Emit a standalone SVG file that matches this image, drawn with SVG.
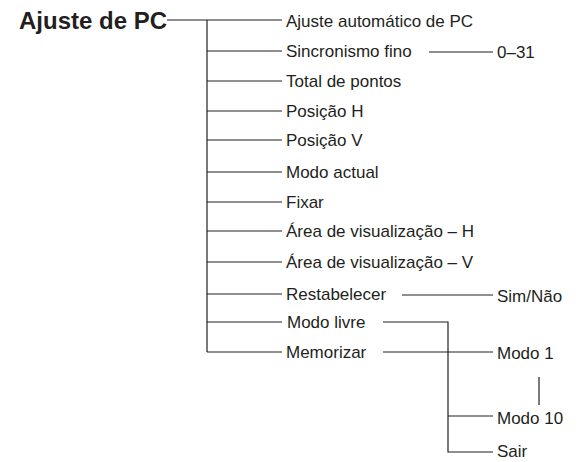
<svg xmlns="http://www.w3.org/2000/svg" width="579" height="462" viewBox="0 0 579 462">
<style>
text{font-family:"Liberation Sans",Arial,sans-serif;font-size:17px;fill:#231f20}
.title{font-size:24px;font-weight:bold}
.c line,.c path{stroke:#231f20;stroke-width:1.2;fill:none}
</style>
<rect width="579" height="462" fill="#fff"/>
<g class="c" id="connectors">
<line x1="167" y1="20" x2="282" y2="20"/>
<line x1="207" y1="20" x2="207" y2="352"/>
<line x1="207" y1="51" x2="282" y2="51"/>
<line x1="207" y1="81" x2="282" y2="81"/>
<line x1="207" y1="111" x2="282" y2="111"/>
<line x1="207" y1="140" x2="282" y2="140"/>
<line x1="207" y1="172" x2="282" y2="172"/>
<line x1="207" y1="202" x2="282" y2="202"/>
<line x1="207" y1="231" x2="282" y2="231"/>
<line x1="207" y1="262" x2="282" y2="262"/>
<line x1="207" y1="294" x2="282" y2="294"/>
<line x1="207" y1="322" x2="282" y2="322"/>
<line x1="207" y1="352" x2="282" y2="352"/>
<line x1="429" y1="52" x2="493" y2="52"/>
<line x1="402" y1="295" x2="493" y2="295"/>
<path d="M383 322H448V452H493"/>
<line x1="383" y1="352" x2="493" y2="352"/>
<line x1="448" y1="416" x2="493" y2="416"/>
<line x1="539" y1="377" x2="539" y2="405"/>
</g>
<g id="root"><text class="title" x="19" y="29">Ajuste de PC</text></g>
<g id="n1"><text x="286" y="27">Ajuste automático de PC</text></g>
<g id="n2"><text x="286" y="57">Sincronismo fino</text></g>
<g id="n2a"><text x="497" y="58">0–31</text></g>
<g id="n3"><text x="286" y="87">Total de pontos</text></g>
<g id="n4"><text x="286" y="117">Posição H</text></g>
<g id="n5"><text x="286" y="146">Posição V</text></g>
<g id="n6"><text x="286" y="178">Modo actual</text></g>
<g id="n7"><text x="286" y="208">Fixar</text></g>
<g id="n8"><text x="286" y="237">Área de visualização – H</text></g>
<g id="n9"><text x="286" y="268">Área de visualização – V</text></g>
<g id="n10"><text x="286" y="300">Restabelecer</text></g>
<g id="n10a"><text x="497" y="302">Sim/Não</text></g>
<g id="n11"><text x="287" y="328">Modo livre</text></g>
<g id="n12"><text x="286" y="358">Memorizar</text></g>
<g id="m1"><text x="497" y="359">Modo 1</text></g>
<g id="m10"><text x="497" y="424">Modo 10</text></g>
<g id="sair"><text x="497" y="457">Sair</text></g>
</svg>
